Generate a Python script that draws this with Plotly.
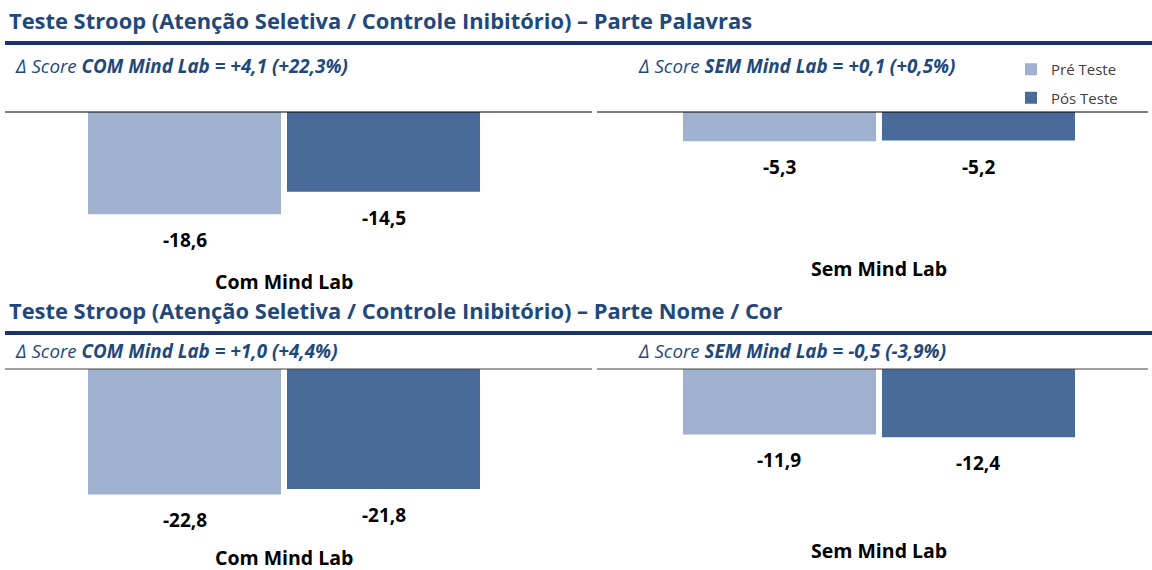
import plotly.graph_objects as go

# chart data
series = ["Pré Teste", "Pós Teste"]
palavras_com = [-18.6, -14.5]
palavras_sem = [-5.3, -5.2]
nomecor_com = [-22.8, -21.8]
nomecor_sem = [-11.9, -12.4]

titles = [
    "Teste Stroop (Atenção Seletiva / Controle Inibitório) – Parte Palavras",
    "Teste Stroop (Atenção Seletiva / Controle Inibitório) – Parte Nome / Cor",
]
delta_texts = [
    ("COM Mind Lab = +4,1 (+22,3%)", "SEM Mind Lab = +0,1 (+0,5%)"),
    ("COM Mind Lab = +1,0 (+4,4%)", "SEM Mind Lab = -0,5 (-3,9%)"),
]

W, H = 1152, 570
FONT = "Open Sans"
TITLE_COLOR = "#1F497D"
NAVY = "#1C326A"
COLORS = ["#9FB1CF", "#4A6A9A"]


def px(x):
    return x / W


def py(y):
    return 1 - y / H


def fmt(v):
    return f"{v:.1f}".replace(".", ",")


fig = go.Figure()

# (axis suffix, category, values, zero line y px, bottom px, x domain px, x range)
panels = [
    ("", "Com Mind Lab", palavras_com, 112, 290, (8, 592), (-0.4726, 0.5274)),
    ("2", "Sem Mind Lab", palavras_sem, 112, 290, (600, 1148), (-0.4777, 0.4606)),
    ("3", "Com Mind Lab", nomecor_com, 369, 570, (8, 592), (-0.4726, 0.5274)),
    ("4", "Sem Mind Lab", nomecor_sem, 369, 570, (600, 1148), (-0.4777, 0.4606)),
]
cat_label_y = [281, 268, 557, 550]
SCALE = 5.5  # px per unit

annotations = []
shapes = []
layout_axes = {}
for i, (sfx, cat, vals, y0, y1, xd, xr) in enumerate(panels):
    for j, s in enumerate(series):
        fig.add_trace(go.Bar(
            x=[cat], y=[vals[j]], name=s,
            marker=dict(color=COLORS[j], line=dict(width=0)),
            xaxis="x" + sfx, yaxis="y" + sfx,
            showlegend=(i == 0), legendgroup=s,
            hoverinfo="skip",
        ))
        annotations.append(dict(
            x=cat, y=vals[j], xref="x" + sfx, yref="y" + sfx,
            xshift=(-99.5 if j == 0 else 99.5), yshift=-26,
            text="<b>" + fmt(vals[j]) + "</b>", showarrow=False,
            font=dict(family=FONT, size=19, color="#000000"),
        ))
    layout_axes["xaxis" + sfx] = dict(
        domain=[px(xd[0]), px(xd[1])], range=list(xr), type="category",
        showticklabels=False, showgrid=False, zeroline=False, showline=False,
        anchor="y" + sfx, fixedrange=True,
    )
    layout_axes["yaxis" + sfx] = dict(
        domain=[max(0, py(y1)), py(y0)], range=[-(y1 - y0) / SCALE, 0],
        showticklabels=False, showgrid=False, zeroline=False, showline=False,
        anchor="x" + sfx, fixedrange=True,
    )
    annotations.append(dict(
        x=cat, xref="x" + sfx, y=py(cat_label_y[i]), yref="paper",
        text="<b>" + cat + "</b>", showarrow=False, yanchor="middle",
        font=dict(family=FONT, size=19.5, color="#000000"),
    ))
    # baseline
    shapes.append(dict(
        type="line", xref="paper", yref="paper",
        x0=px(xd[0] - 3), x1=px(xd[1]), y0=py(y0), y1=py(y0),
        line=dict(color="#000000" if y0 < 200 else "#404040", width=1),
    ))

# section titles, navy rules and delta subtitles
for k, (ty, ly, sy) in enumerate([(20, 43, 66), (310, 333, 351)]):
    annotations.append(dict(
        x=px(7), y=py(ty), xref="paper", yref="paper", xanchor="left",
        yanchor="middle", text="<b>" + titles[k] + "</b>", showarrow=False,
        font=dict(family=FONT, size=21.9, color=TITLE_COLOR),
    ))
    shapes.append(dict(
        type="line", xref="paper", yref="paper", x0=px(5), x1=1,
        y0=py(ly), y1=py(ly), line=dict(color=NAVY, width=4),
    ))
    for xx, txt in zip([13, 636], delta_texts[k]):
        annotations.append(dict(
            x=px(xx), y=py(sy), xref="paper", yref="paper", xanchor="left",
            yanchor="middle", text="<i>\u2206 Score <b>" + txt + "</b></i>",
            showarrow=False,
            font=dict(family=FONT, size=18.8, color=TITLE_COLOR),
        ))

fig.update_layout(
    width=W, height=H,
    margin=dict(l=0, r=0, t=0, b=0),
    paper_bgcolor="white", plot_bgcolor="white",
    barmode="group", bargap=0.3185, bargroupgap=0.03,
    font=dict(family=FONT, color="#404040"),
    legend=dict(
        x=px(1011), y=py(53), xanchor="left", yanchor="top",
        font=dict(family=FONT, size=15, color="#404040"),
        tracegroupgap=6, bgcolor="rgba(0,0,0,0)",
    ),
    annotations=annotations, shapes=shapes,
    **layout_axes,
)

fig.write_html("out.html", config={"displayModeBar": False},
               post_script="document.body.style.margin='0';")
